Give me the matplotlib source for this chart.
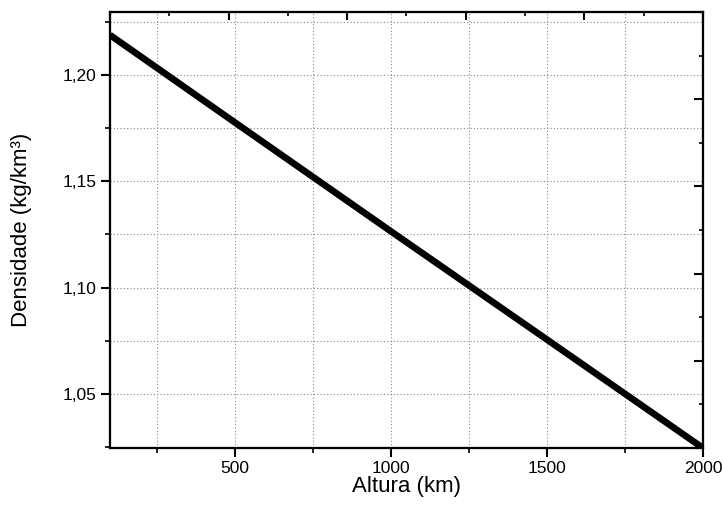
import numpy as np
import matplotlib.pyplot as plt
from matplotlib.ticker import MultipleLocator, FuncFormatter

# values
altura = [100, 500, 1000, 1500, 2000]
densidade = [1.2188, 1.1777, 1.1265, 1.0756, 1.0246]

xlim = (100, 2000)
ylim = (1.0246, 1.2296)

plt.rcParams['font.family'] = ['Liberation Sans', 'DejaVu Sans']

def main():
    fig = plt.figure(figsize=(7.23, 5.18), dpi=100)
    ax = fig.add_axes([0.1521, 0.1351, 0.8202, 0.8417])

    ax.plot(altura, densidade, color='black', lw=4.8, solid_capstyle='butt')
    ax.set_xlim(*xlim)
    ax.set_ylim(*ylim)

    ax.xaxis.set_major_locator(MultipleLocator(500))
    ax.xaxis.set_minor_locator(MultipleLocator(250))
    ax.yaxis.set_major_locator(MultipleLocator(0.05))
    ax.yaxis.set_minor_locator(MultipleLocator(0.025))
    ax.yaxis.set_major_formatter(FuncFormatter(lambda v, p: f"{v:.2f}".replace('.', ',')))

    ax.grid(True, which='both', linestyle=(0, (1, 2)), color='#888888', lw=0.8)
    ax.set_axisbelow(True)

    ax.tick_params(which='major', direction='out', length=6.5, width=1.5, labelsize=12.5, pad=3)
    ax.tick_params(which='minor', direction='out', length=3.6, width=1.2)
    for s in ax.spines.values():
        s.set_linewidth(1.5)

    xl = ax.set_xlabel("Altura (km)", fontsize=16, va='center')
    yl = ax.set_ylabel("Densidade (kg/km³)", fontsize=16, va='center')
    ax.xaxis.set_label_coords(0.5, -0.0894)
    ax.yaxis.set_label_coords(-0.150, 0.5)

    # top and right axes with their own ticks, inward
    top = ax.twiny()
    top.set_xlim(*xlim)
    tt = np.linspace(xlim[0], xlim[1], 11)
    top.set_xticks(tt[::2])
    top.set_xticks(tt[1::2], minor=True)
    top.tick_params(which='major', direction='in', length=6, width=1.5, labeltop=False)
    top.tick_params(which='minor', direction='in', length=3, width=1.2)

    right = ax.twinx()
    right.set_ylim(*ylim)
    rt = np.linspace(ylim[0], ylim[1], 11)
    right.set_yticks(rt[::2])
    right.set_yticks(rt[1::2], minor=True)
    right.tick_params(which='major', direction='in', length=6.5, width=1.5, labelright=False)
    right.tick_params(which='minor', direction='in', length=3, width=1.2)
    for a in (top, right):
        for s in a.spines.values():
            s.set_linewidth(1.5)

    fig.savefig("out.png", dpi=100)

if __name__ == '__main__':
    main()
